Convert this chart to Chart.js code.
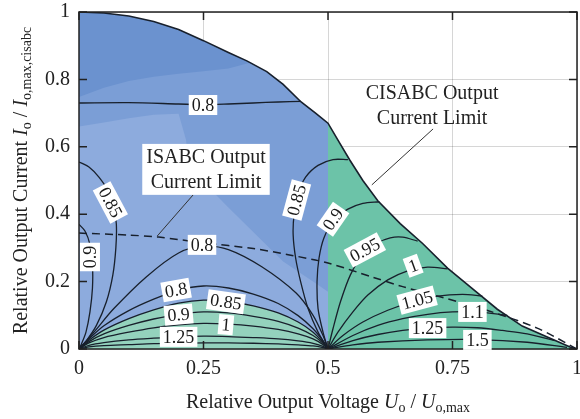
<!DOCTYPE html>
<html>
<head>
<meta charset="utf-8">
<script src="https://cdn.jsdelivr.net/npm/chart.js@4.4.0/dist/chart.umd.min.js"></script>
<style>
  html, body { margin: 0; padding: 0; background: #fff; }
  #wrap { width: 580px; height: 419px; }
</style>
</head>
<body>
<div id="wrap"><canvas id="chart" width="580" height="419"></canvas></div>
<script>
// tick values
const xTicks = [0, 0.25, 0.5, 0.75, 1];
const yTicks = [0, 0.2, 0.4, 0.6, 0.8, 1];

// CISABC output current limit (outer curve)
const limitLeft = [[0,1],[0.05,0.997],[0.1,0.988],[0.15,0.972],[0.2,0.948],[0.25,0.915],[0.3,0.88],
  [0.337,0.855],[0.377,0.823],[0.41,0.785],[0.446,0.733],[0.475,0.7],[0.5,0.67]];
const limitRight = [[0.5,0.67],[0.52,0.62],[0.544,0.56],[0.57,0.5],[0.6,0.44],[0.645,0.372],[0.69,0.313],
  [0.74,0.24],[0.785,0.185],[0.84,0.118],[0.89,0.068],[0.946,0.032],[0.986,0.006],[1,0]];

// shading bands in the left half
const bandMid = [[0,0.748],[0.05,0.775],[0.1,0.795],[0.15,0.808],[0.2,0.817],[0.25,0.824],[0.3,0.832],
  [0.345,0.85],[0.377,0.823],[0.41,0.785],[0.446,0.733],[0.475,0.7],[0.5,0.67],[0.5,0]];
const bandLight = [[0,0],[0,0.66],[0.05,0.672],[0.1,0.685],[0.15,0.695],[0.2,0.698],[0.215,0.62],
  [0.22,0.54],[0.3,0.42],[0.41,0.26],[0.47,0.2],[0.5,0.17],[0.5,0]];

// ISABC output current limit (dashed)
const isabcLimit = [[0,0.344],[0.1,0.338],[0.16,0.332],[0.25,0.315],[0.35,0.298],[0.42,0.28],[0.5,0.255],
  [0.59,0.213],[0.65,0.185],[0.725,0.155],[0.825,0.112],[0.92,0.062],[1,0]];

// arches between (0,0) and (0.5,0)
const archX   = [0, 0.02, 0.05, 0.1, 0.15, 0.2, 0.25, 0.3, 0.35, 0.4, 0.44, 0.47, 0.49, 0.5];
const arch080 = [0, .03, .069, .114, .148, .175, .187, .181, .163, .135, .099, .06, .024, 0];
const arch085 = [0, .026, .056, .09, .116, .136, .145, .141, .128, .107, .08, .05, .02, 0];
const arch090 = [0, .022, .045, .07, .089, .103, .11, .107, .097, .082, .062, .04, .017, 0];
const arch100 = [0, .018, .034, .05, .063, .072, .076, .074, .068, .058, .045, .03, .013, 0];
const arch125 = [0, .011, .019, .027, .032, .036, .038, .037, .034, .03, .024, .017, .008, 0];
const arch150 = [0, .006, .01, .013, .016, .017, .018, .018, .017, .015, .012, .009, .004, 0];

// contours around (0,0)
const top080  = [[0,0.73],[0.1,0.731],[0.2,0.727],[0.25,0.725],[0.3,0.727],[0.35,0.73],[0.4,0.733],[0.446,0.735]];
const loop085 = [[0,0.555],[0.02,0.54],[0.04,0.51],[0.058,0.47],[0.07,0.42],[0.075,0.37],[0.074,0.3],
  [0.068,0.22],[0.055,0.14],[0.035,0.07],[0.015,0.025],[0,0]];
const loop090 = [[0,0.37],[0.012,0.35],[0.022,0.31],[0.027,0.25],[0.027,0.18],[0.022,0.11],[0.014,0.05],[0.005,0.015],[0,0]];
const big080  = [[0,0],[0.03,0.05],[0.07,0.12],[0.135,0.214],[0.2,0.285],[0.25,0.305],[0.3,0.295],
  [0.367,0.244],[0.436,0.166],[0.47,0.1],[0.49,0.04],[0.5,0]];

// contours around (0.5,0)
const fan085 = [[0.5,0],[0.48,0.05],[0.46,0.12],[0.445,0.2],[0.435,0.27],[0.43,0.34],[0.432,0.4],[0.44,0.46],
  [0.455,0.51],[0.48,0.545],[0.51,0.562],[0.54,0.562]];
const fan090 = [[0.5,0],[0.49,0.05],[0.48,0.12],[0.478,0.2],[0.482,0.27],[0.492,0.33],[0.512,0.383],[0.54,0.415],
  [0.57,0.432],[0.603,0.437]];
const fan095 = [[0.5,0],[0.51,0.06],[0.525,0.14],[0.545,0.22],[0.57,0.28],[0.6,0.315],[0.625,0.33],[0.65,0.332],[0.68,0.32]];
const fan100 = [[0.5,0],[0.52,0.05],[0.55,0.11],[0.58,0.16],[0.62,0.205],[0.66,0.232],[0.7,0.243],[0.74,0.238]];
const fan105 = [[0.5,0],[0.53,0.04],[0.57,0.08],[0.62,0.115],[0.67,0.14],[0.72,0.157],[0.77,0.162],[0.81,0.157]];
const fan110 = [[0.5,0],[0.55,0.04],[0.6,0.07],[0.65,0.09],[0.7,0.103],[0.75,0.11],[0.8,0.11],[0.86,0.1]];
const fan125 = [[0.5,0],[0.55,0.025],[0.6,0.043],[0.65,0.055],[0.7,0.062],[0.75,0.065],[0.8,0.063],[0.85,0.055],[0.9,0.045],[0.955,0.025]];
const fan150 = [[0.5,0],[0.55,0.012],[0.6,0.02],[0.7,0.027],[0.8,0.028],[0.9,0.02],[0.98,0.005]];

// contour labels
const contourLabels = [
  ['0.8', 0.249, 0.724, 0], ['0.85', 0.063, 0.435, 62], ['0.9', 0.022, 0.273, -90],
  ['0.8', 0.247, 0.309, 0], ['0.8', 0.195, 0.175, -10], ['0.85', 0.295, 0.14, 8],
  ['0.9', 0.2, 0.102, -5], ['1', 0.295, 0.072, 5], ['1.25', 0.2, 0.036, 0],
  ['0.85', 0.437, 0.442, -75], ['0.9', 0.51, 0.385, -55], ['0.95', 0.574, 0.294, -28],
  ['1', 0.671, 0.247, -20], ['1.05', 0.679, 0.145, -15], ['1.1', 0.79, 0.11, 0],
  ['1.25', 0.7, 0.062, 0], ['1.5', 0.8, 0.027, 0]
];

// annotations: text lines, centre x, line y values, pointer line
const isabcNote  = { lines: ['ISABC Output', 'Current Limit'], x: 0.255, y: [0.57, 0.496], box: true,
  ptr: [[0.229, 0.457], [0.157, 0.335]] };
const cisabcNote = { lines: ['CISABC Output', 'Current Limit'], x: 0.709, y: [0.76, 0.685], box: false,
  ptr: [[0.711, 0.653], [0.588, 0.487]] };

const serif = 'Liberation Serif, Times New Roman, serif';
const lineCol = '#18202c';

function zip(xs, ys) { return xs.map((x, i) => ({ x: x, y: ys[i] })); }
function pts(arr) { return arr.map(p => ({ x: p[0], y: p[1] })); }

function fillSet(data, color, order) {
  return { data: data, showLine: true, fill: 'origin', backgroundColor: color, borderWidth: 0,
    pointRadius: 0, tension: 0, order: order };
}
function lineSet(data, width, dash) {
  return { data: data, showLine: true, fill: false, borderColor: lineCol, borderWidth: width,
    borderDash: dash || [], pointRadius: 0, tension: 0.3, order: 10 };
}

const datasets = [
  fillSet(pts(limitLeft.concat([[0.5, 0]])), '#6b92cf', 100),
  fillSet(pts(bandMid), '#7b9ed6', 90),
  fillSet(pts(bandLight), '#8dabdd', 80),
  fillSet(zip(archX, arch085), '#94d2bd', 70),
  fillSet(pts([[0.5, 0]].concat(limitRight)), '#6cc3a8', 60)
];
[arch080, arch085, arch090, arch100, arch125, arch150].forEach(a => datasets.push(lineSet(zip(archX, a), 1.3)));
[top080, loop085, loop090, big080, fan085, fan090, fan095, fan100, fan105, fan110, fan125, fan150]
  .forEach(a => datasets.push(lineSet(pts(a), 1.3)));
datasets.push(lineSet(pts(isabcLimit), 1.5, [8, 5]));
const edge = lineSet(pts(limitLeft.concat(limitRight.slice(1))), 1.6);
edge.tension = 0; edge.order = 1;
datasets.push(edge);

function richText(ctx, parts, cx, cy) {
  let total = 0;
  parts.forEach(p => { ctx.font = p[1]; total += ctx.measureText(p[0]).width; });
  let x = cx - total / 2;
  ctx.textAlign = 'left';
  ctx.textBaseline = 'alphabetic';
  parts.forEach(p => {
    ctx.font = p[1];
    ctx.fillText(p[0], x, cy + p[2]);
    x += ctx.measureText(p[0]).width;
  });
}

const decor = {
  id: 'decor',
  afterDraw(chart) {
    const ctx = chart.ctx, a = chart.chartArea;
    const xs = chart.scales.x, ys = chart.scales.y;
    ctx.save();
    // inward ticks
    ctx.strokeStyle = '#222';
    ctx.lineWidth = 1.5;
    ctx.beginPath();
    xTicks.forEach(v => {
      const px = xs.getPixelForValue(v);
      ctx.moveTo(px, a.bottom); ctx.lineTo(px, a.bottom - 8);
      ctx.moveTo(px, a.top); ctx.lineTo(px, a.top + 8);
    });
    yTicks.forEach(v => {
      const py = ys.getPixelForValue(v);
      ctx.moveTo(a.left, py); ctx.lineTo(a.left + 8, py);
      ctx.moveTo(a.right, py); ctx.lineTo(a.right - 8, py);
    });
    ctx.stroke();
    ctx.strokeRect(a.left, a.top, a.right - a.left, a.bottom - a.top);

    // annotations
    [isabcNote, cisabcNote].forEach(n => {
      ctx.strokeStyle = '#333';
      ctx.lineWidth = 1;
      ctx.beginPath();
      ctx.moveTo(xs.getPixelForValue(n.ptr[0][0]), ys.getPixelForValue(n.ptr[0][1]));
      ctx.lineTo(xs.getPixelForValue(n.ptr[1][0]), ys.getPixelForValue(n.ptr[1][1]));
      ctx.stroke();
      ctx.font = '20px ' + serif;
      const cx = xs.getPixelForValue(n.x);
      const w = Math.max(...n.lines.map(t => ctx.measureText(t).width));
      const y0 = ys.getPixelForValue(n.y[0]), y1 = ys.getPixelForValue(n.y[1]);
      if (n.box) {
        ctx.fillStyle = '#fff';
        ctx.fillRect(cx - w / 2 - 4, y0 - 13, w + 8, y1 - y0 + 26);
      }
      ctx.fillStyle = '#222';
      ctx.textAlign = 'center';
      ctx.textBaseline = 'middle';
      n.lines.forEach((t, i) => ctx.fillText(t, cx, ys.getPixelForValue(n.y[i]) + 1));
    });

    // contour labels
    ctx.font = '18px ' + serif;
    contourLabels.forEach(l => {
      const px = xs.getPixelForValue(l[1]), py = ys.getPixelForValue(l[2]);
      const w = ctx.measureText(l[0]).width;
      ctx.save();
      ctx.translate(px, py);
      ctx.rotate(l[3] * Math.PI / 180);
      ctx.fillStyle = '#fff';
      ctx.fillRect(-w / 2 - 3, -10, w + 6, 20);
      ctx.fillStyle = '#1a1a1a';
      ctx.textAlign = 'center';
      ctx.textBaseline = 'middle';
      ctx.fillText(l[0], 0, 1);
      ctx.restore();
    });

    // axis titles
    ctx.fillStyle = '#222';
    const big = '20px ' + serif, it = 'italic 20px ' + serif, sub = '14px ' + serif;
    richText(ctx, [['Relative Output Voltage ', big, 0], ['U', it, 0], ['o', sub, 4], [' / ', big, 0],
      ['U', it, 0], ['o,max', sub, 4]], (a.left + a.right) / 2, 408);
    ctx.translate(27, (a.top + a.bottom) / 2);
    ctx.rotate(-Math.PI / 2);
    richText(ctx, [['Relative Output Current ', big, 0], ['I', it, 0], ['o', sub, 4], [' / ', big, 0],
      ['I', it, 0], ['o,max,cisabc', sub, 4]], 0, 0);
    ctx.restore();
  }
};

new Chart(document.getElementById('chart'), {
  type: 'scatter',
  data: { datasets: datasets },
  options: {
    responsive: false,
    animation: false,
    layout: { padding: { left: 0, right: 3, top: 12, bottom: 0 } },
    plugins: { legend: { display: false }, tooltip: { enabled: false } },
    scales: {
      x: {
        type: 'linear', min: 0, max: 1, z: 1,
        afterBuildTicks: s => { s.ticks = xTicks.map(v => ({ value: v })); },
        afterFit: s => { s.height = 70; s.paddingLeft = 0; s.paddingRight = 0; },
        ticks: { callback: v => String(v), font: { family: serif, size: 20 }, color: '#222',
          padding: 8, maxRotation: 0, autoSkip: false },
        grid: { color: 'rgba(0,0,0,0.16)', drawTicks: false },
        border: { display: false }
      },
      y: {
        type: 'linear', min: 0, max: 1, z: 1,
        afterBuildTicks: s => { s.ticks = yTicks.map(v => ({ value: v })); },
        afterFit: s => { s.width = 79; s.paddingTop = 0; s.paddingBottom = 0; },
        ticks: { callback: v => String(v), font: { family: serif, size: 20 }, color: '#222',
          padding: 9, autoSkip: false },
        grid: { color: 'rgba(0,0,0,0.16)', drawTicks: false },
        border: { display: false }
      }
    }
  },
  plugins: [decor]
});
</script>
</body>
</html>
